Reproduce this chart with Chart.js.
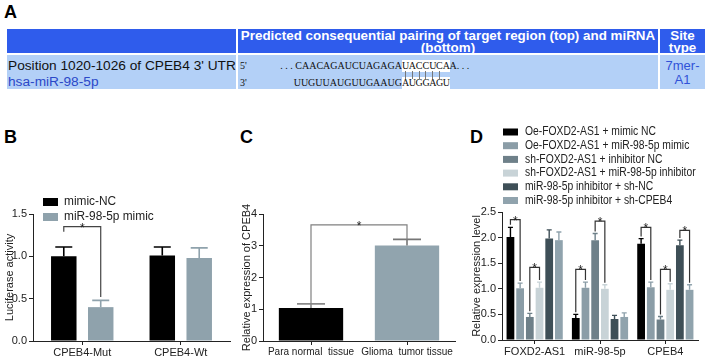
<!DOCTYPE html>
<html>
<head>
<meta charset="utf-8">
<script src="https://cdn.jsdelivr.net/npm/chart.js@4.4.0/dist/chart.umd.min.js"></script>
<style>
body{margin:0;width:705px;height:360px;position:relative;background:#fff;overflow:hidden;font-family:"Liberation Sans",Arial,sans-serif}
.abs{position:absolute}
.lbl{font-weight:bold;font-size:18px;color:#000;line-height:18px}
.hd{background:#2f5cec;color:#fff;font-weight:bold;font-size:13.4px;line-height:11.5px;white-space:nowrap;text-align:center;padding-top:1px;box-sizing:border-box}
.rw{background:#b3d0f7}
.seq{font-family:"Liberation Serif","Times New Roman",serif;font-size:10px;line-height:12px;white-space:nowrap;color:#111}
.hl{background:#fff;display:inline-block}
.hl span{display:inline-block;width:6.8px;text-align:center}
canvas{position:absolute}
</style>
</head>
<body>
<!-- panel A : table -->
<div class="abs lbl" style="left:4px;top:3px">A</div>
<div class="abs hd" style="left:7px;top:29px;width:229px;height:24px"></div>
<div class="abs hd" style="left:238px;top:29px;width:420px;height:24px">Predicted consequential pairing of target region (top) and miRNA<br>(bottom)</div>
<div class="abs hd" style="left:660px;top:29px;width:45px;height:24px">Site<br>type</div>
<div class="abs rw" style="left:7px;top:55px;width:229px;height:34px"></div>
<div class="abs rw" style="left:238px;top:55px;width:420px;height:34px"></div>
<div class="abs rw" style="left:660px;top:55px;width:45px;height:34px"></div>
<div class="abs" style="left:8px;top:58px;font-size:13.7px;color:#111;white-space:nowrap">Position 1020-1026 of CPEB4 3' UTR</div>
<div class="abs" style="left:8px;top:74px;font-size:13.7px;color:#2b48c8;white-space:nowrap">hsa-miR-98-5p</div>
<div class="abs" style="left:660px;top:59px;width:45px;text-align:center;font-size:13px;line-height:14px;color:#3152d8">7mer-<br>A1</div>
<div class="abs seq" style="left:240px;top:60px">5'</div>
<div class="abs seq" style="left:240px;top:77px">3'</div>
<div id="seqs"></div>

<div class="abs lbl" style="left:4px;top:128px">B</div>
<div class="abs lbl" style="left:240px;top:128px">C</div>
<div class="abs lbl" style="left:470px;top:128px">D</div>

<canvas id="chartB" width="240" height="170" style="left:0px;top:190px;width:240px;height:170px"></canvas>
<canvas id="chartC" width="230" height="170" style="left:240px;top:190px;width:230px;height:170px"></canvas>
<canvas id="chartD" width="235" height="240" style="left:470px;top:120px;width:235px;height:240px"></canvas>

<script>
// sequences panel A
var targetPre = ". . . CAACAGAUCUAGAGA";
var targetSite = "UACCUCA";
var targetPost = "A. . .";
var mirnaPre = "UUGUUAUGUUGAAUG";
var mirnaSite = "AUGGAGU";
var pairs = 6;

// panel B
var catB = ["CPEB4-Mut", "CPEB4-Wt"];
var nameB = ["mimic-NC", "miR-98-5p mimic"];
var ncB = [1.0, 1.01];
var ncB_sd = [0.11, 0.10];
var mimicB = [0.40, 0.98];
var mimicB_sd = [0.08, 0.12];
var ticksB = [0, 0.5, 1.0, 1.5];
// [dsA, catA, dsB, catB, level, legA, legB]
var sigB = [[0, 0, 1, 0, 1.35, 1.29, 0.52]];

// panel C
var catC = ["Para normal  tissue", "Glioma  tumor tissue"];
var valC = [1.04, 3.01];
var sdC = [0.13, 0.19];
var ticksC = [0, 1, 2, 3, 4];
var sigC = [[0, 0, 0, 1, 3.66, 1.17, 3.2]];

// panel D
var catD = ["FOXD2-AS1", "miR-98-5p", "CPEB4"];
var nameD = ["Oe-FOXD2-AS1 + mimic NC", "Oe-FOXD2-AS1 + miR-98-5p mimic", "sh-FOXD2-AS1 + inhibitor NC",
  "sh-FOXD2-AS1 + miR-98-5p inhibitor", "miR-98-5p inhibitor + sh-NC", "miR-98-5p inhibitor + sh-CPEB4"];
var oeNC = [2.01, 0.43, 1.88];
var oeNC_sd = [0.19, 0.07, 0.10];
var oeMimic = [1.01, 1.02, 1.03];
var oeMimic_sd = [0.10, 0.11, 0.10];
var shNC = [0.45, 1.95, 0.40];
var shNC_sd = [0.07, 0.13, 0.06];
var shInh = [1.02, 1.0, 0.98];
var shInh_sd = [0.11, 0.08, 0.12];
var inhNC = [1.98, 0.41, 1.85];
var inhNC_sd = [0.17, 0.07, 0.10];
var inhSh = [1.95, 0.45, 0.98];
var inhSh_sd = [0.16, 0.08, 0.10];
var ticksD = [0, 0.5, 1.0, 1.5, 2.0, 2.5];
var sigD = [
  [0, 0, 1, 0, 2.35, 2.25, 1.15],
  [2, 0, 3, 0, 1.42, 0.56, 1.17],
  [0, 1, 1, 1, 1.38, 0.54, 1.17],
  [2, 1, 3, 1, 2.32, 2.12, 1.12],
  [0, 2, 1, 2, 2.2, 2.02, 1.17],
  [2, 2, 3, 2, 1.38, 0.5, 1.14],
  [4, 2, 5, 2, 2.14, 1.99, 1.12]
];

// build sequence lines
(function(){
  var h = "";
  function site(s){ return '<span class="hl">' + s.split("").map(function(c){ return "<span>" + c + "</span>"; }).join("") + "</span>"; }
  h += '<div class="abs seq" style="right:303px;top:60px">' + targetPre + '</div>';
  h += '<div class="abs seq" style="left:402px;top:60px">' + site(targetSite) + targetPost + '</div>';
  h += '<div class="abs seq" style="right:303px;top:77px">' + mirnaPre + '</div>';
  h += '<div class="abs seq" style="left:402px;top:77px">' + site(mirnaSite) + '</div>';
  for (var k = 0; k < pairs; k++) {
    h += '<div class="abs" style="left:' + (402 + 6.8 * (k + 0.5) - 0.5) + 'px;top:71px;width:1px;height:8px;background:#777"></div>';
  }
  document.getElementById("seqs").innerHTML = h;
})();

Chart.defaults.font.family = "'Liberation Sans', Arial, sans-serif";
Chart.defaults.font.size = 11;
Chart.defaults.color = "#222";

function pick(c, j){ return Array.isArray(c) ? c[j] : c; }

var errPlugin = {
  id: "errbars",
  afterDatasetsDraw: function(chart, args, opts){
    var ctx = chart.ctx, y = chart.scales.y;
    chart.data.datasets.forEach(function(ds, i){
      chart.getDatasetMeta(i).data.forEach(function(bar, j){
        var top = y.getPixelForValue(ds.data[j] + ds.sd[j]);
        ctx.save();
        ctx.strokeStyle = pick(ds.errColor || ds.backgroundColor, j);
        ctx.lineWidth = opts.width || 1.5;
        ctx.beginPath();
        ctx.moveTo(bar.x, bar.y);
        ctx.lineTo(bar.x, top);
        ctx.moveTo(bar.x - opts.cap / 2, top);
        ctx.lineTo(bar.x + opts.cap / 2, top);
        ctx.stroke();
        ctx.restore();
      });
    });
  }
};

var sigPlugin = {
  id: "sig",
  afterDatasetsDraw: function(chart, args, opts){
    var ctx = chart.ctx, y = chart.scales.y;
    (opts.pairs || []).forEach(function(p){
      var a = chart.getDatasetMeta(p[0]).data[p[1]];
      var b = chart.getDatasetMeta(p[2]).data[p[3]];
      var yl = y.getPixelForValue(p[4]);
      ctx.save();
      ctx.strokeStyle = opts.color;
      ctx.lineWidth = 1.2;
      ctx.beginPath();
      ctx.moveTo(a.x, y.getPixelForValue(p[5]));
      ctx.lineTo(a.x, yl);
      ctx.lineTo(b.x, yl);
      ctx.lineTo(b.x, y.getPixelForValue(p[6]));
      ctx.stroke();
      ctx.fillStyle = "#222";
      ctx.font = "12px 'Liberation Sans', Arial, sans-serif";
      ctx.textAlign = "center";
      ctx.textBaseline = "alphabetic";
      ctx.fillText("*", (a.x + b.x) / 2, yl + opts.starDy);
      ctx.restore();
    });
  }
};

// legend drawn in place, text squeezed a little like the figure
var boxLegend = {
  id: "boxlegend",
  afterDraw: function(chart, args, opts){
    if (!opts.x) return;
    var ctx = chart.ctx;
    ctx.save();
    ctx.font = opts.font;
    ctx.textBaseline = "middle";
    ctx.textAlign = "left";
    chart.data.datasets.forEach(function(ds, i){
      var cy = opts.y + i * opts.dy;
      ctx.fillStyle = ds.backgroundColor;
      ctx.fillRect(opts.x, cy - opts.bh / 2, opts.bw, opts.bh);
      ctx.fillStyle = "#222";
      var tx = opts.x + opts.bw + opts.gap;
      ctx.save();
      ctx.translate(tx, cy);
      ctx.scale(opts.sx, 1);
      ctx.fillText(ds.label, 0, 0);
      ctx.restore();
    });
    ctx.restore();
  }
};

function yScale(ticks, max, width, title, fmt, titlePad){
  return {
    min: 0, max: max,
    afterBuildTicks: function(s){ s.ticks = ticks.map(function(v){ return {value: v}; }); },
    afterFit: function(s){ s.width = width; },
    ticks: {padding: 2, color: "#222", font: {size: 11}, callback: function(v){ return fmt ? Number(v).toFixed(1) : v; }},
    grid: {drawOnChartArea: false, drawTicks: true, tickLength: 4, color: "#222", lineWidth: 1},
    border: {display: true, color: "#222", width: 1},
    title: {display: true, text: title, color: "#222", font: {size: 11}, padding: titlePad}
  };
}
function xScale(height, size){
  return {
    afterFit: function(s){ s.height = height; },
    ticks: {padding: 1, color: "#222", font: {size: size}, maxRotation: 0, autoSkip: false},
    grid: {drawOnChartArea: false, drawTicks: true, tickLength: 4, offset: false, color: "#222", lineWidth: 1},
    border: {display: true, color: "#222", width: 1}
  };
}

// B
new Chart(document.getElementById("chartB"), {
  type: "bar",
  data: {
    labels: catB,
    datasets: [
      {label: nameB[0], data: ncB, sd: ncB_sd, backgroundColor: "#000000"},
      {label: nameB[1], data: mimicB, sd: mimicB_sd, backgroundColor: "#8fa2ac"}
    ]
  },
  options: {
    responsive: false, animation: false,
    layout: {padding: {top: 24, right: 10, left: 0, bottom: 0}},
    datasets: {bar: {categoryPercentage: 0.75, barPercentage: 0.69}},
    scales: {x: xScale(19, 11), y: yScale(ticksB, 1.5, 33, "Luciferase activity", true, {top: 3, bottom: 0})},
    plugins: {
      legend: {display: false}, tooltip: {enabled: false},
      errbars: {cap: 17, width: 1.6},
      sig: {pairs: sigB, color: "#444", starDy: 5},
      boxlegend: {x: 43, y: 12, dy: 15, bw: 15, bh: 8, gap: 6, sx: 0.95, font: "12.5px 'Liberation Sans', Arial, sans-serif"}
    }
  },
  plugins: [errPlugin, sigPlugin, boxLegend]
});

// C
new Chart(document.getElementById("chartC"), {
  type: "bar",
  data: {
    labels: catC,
    datasets: [
      {label: "CPEB4", data: valC, sd: sdC, backgroundColor: ["#000000", "#91a4ae"], errColor: ["#8a8a8a", "#767676"]}
    ]
  },
  options: {
    responsive: false, animation: false,
    layout: {padding: {top: 24, right: 15, left: 0, bottom: 0}},
    datasets: {bar: {categoryPercentage: 1, barPercentage: 0.67}},
    scales: {x: xScale(19, 10), y: yScale(ticksC, 4, 23, "Relative expression of CPEB4", false, {top: 0, bottom: 0})},
    plugins: {
      legend: {display: false}, tooltip: {enabled: false},
      errbars: {cap: 28, width: 1.6},
      sig: {pairs: sigC, color: "#808080", starDy: 5}
    }
  },
  plugins: [errPlugin, sigPlugin]
});

// D
new Chart(document.getElementById("chartD"), {
  type: "bar",
  data: {
    labels: catD,
    datasets: [
      {label: nameD[0], data: oeNC, sd: oeNC_sd, backgroundColor: "#000000"},
      {label: nameD[1], data: oeMimic, sd: oeMimic_sd, backgroundColor: "#8b9da7"},
      {label: nameD[2], data: shNC, sd: shNC_sd, backgroundColor: "#6e8089"},
      {label: nameD[3], data: shInh, sd: shInh_sd, backgroundColor: "#c8d3d7"},
      {label: nameD[4], data: inhNC, sd: inhNC_sd, backgroundColor: "#3e4f57"},
      {label: nameD[5], data: inhSh, sd: inhSh_sd, backgroundColor: "#90a3ad"}
    ]
  },
  options: {
    responsive: false, animation: false,
    layout: {padding: {top: 92, right: 7, left: 0, bottom: 0}},
    datasets: {bar: {categoryPercentage: 0.89, barPercentage: 0.8}},
    scales: {x: xScale(20, 11), y: yScale(ticksD, 2.5, 32, "Relative expression level", true, {top: 0, bottom: 0})},
    plugins: {
      legend: {display: false}, tooltip: {enabled: false},
      errbars: {cap: 5, width: 1.4},
      sig: {pairs: sigD, color: "#333", starDy: 5},
      boxlegend: {x: 33, y: 12, dy: 13.7, bw: 15, bh: 7, gap: 7, sx: 0.86, font: "12px 'Liberation Sans', Arial, sans-serif"}
    }
  },
  plugins: [errPlugin, sigPlugin, boxLegend]
});
</script>
</body>
</html>
